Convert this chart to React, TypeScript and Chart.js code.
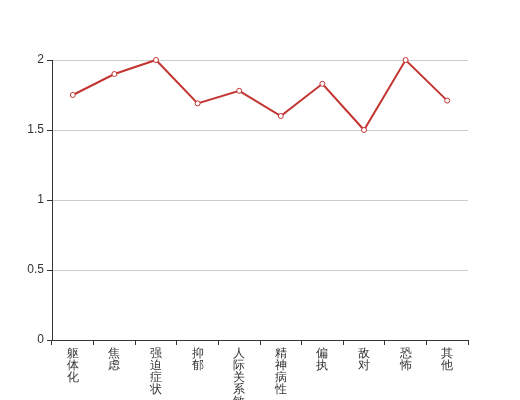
import React, { useEffect, useRef } from "react";
import { Chart, registerables } from "chart.js";

Chart.register(...registerables);

const categories = ["躯体化", "焦虑", "强迫症状", "抑郁", "人际关系敏感", "精神病性", "偏执", "敌对", "恐怖", "其他"];
const values = [1.75, 1.9, 2.0, 1.69, 1.78, 1.6, 1.83, 1.5, 2.0, 1.71];
const yTicks = [0, 0.5, 1, 1.5, 2];

export default function App() {
  const ref = useRef<HTMLCanvasElement | null>(null);
  useEffect(() => {
    if (!ref.current) return;
    const chart = new Chart(ref.current, {
      type: "line",
      data: {
        labels: categories.map((c) => c.split("")),
        datasets: [
          {
            data: values,
            borderColor: "#c23531",
            borderWidth: 2,
            backgroundColor: "#ffffff",
            pointBackgroundColor: "#ffffff",
            pointBorderColor: "#c23531",
            pointBorderWidth: 1,
            pointRadius: 2.5,
            tension: 0,
            clip: false,
          } as any,
        ],
      },
      options: {
        animation: false,
        responsive: false,
        maintainAspectRatio: false,
        layout: { padding: { top: 60, right: 52, left: 0, bottom: 0 } },
        plugins: { legend: { display: false }, tooltip: { enabled: false } },
        scales: {
          x: {
            offset: true,
            grid: {
              offset: true,
              drawOnChartArea: false,
              drawTicks: true,
              tickLength: 5,
              tickColor: "#333",
            },
            border: { color: "#333", width: 1 },
            ticks: {
              color: "#333",
              padding: 3,
              maxRotation: 0,
              minRotation: 0,
              autoSkip: false,
              font: { size: 12, family: "sans-serif", lineHeight: 1.0 },
            },
            afterFit: (s: any) => {
              s.height = 60;
            },
          },
          y: {
            min: 0,
            max: 2,
            afterBuildTicks: (s: any) => {
              s.ticks = yTicks.map((v) => ({ value: v }));
            },
            grid: {
              color: (ctx: any) => (ctx.tick && ctx.tick.value === 0 ? "rgba(0,0,0,0)" : "#cccccc"),
              tickColor: "#333",
              tickLength: 5,
              drawTicks: true,
            },
            border: { color: "#333", width: 1 },
            ticks: {
              color: "#333",
              padding: 3,
              font: { size: 12, family: "sans-serif" },
              callback: (v: any) => String(Number(v)),
            },
            afterFit: (s: any) => {
              s.width = 52;
            },
          },
        },
      },
    });
    return () => chart.destroy();
  }, []);
  return (
    <div style={{ position: "absolute", left: 0, top: 0, width: 520, height: 400, background: "#fff" }}>
      <canvas ref={ref} width={520} height={400} style={{ width: 520, height: 400, display: "block" }} />
    </div>
  );
}
